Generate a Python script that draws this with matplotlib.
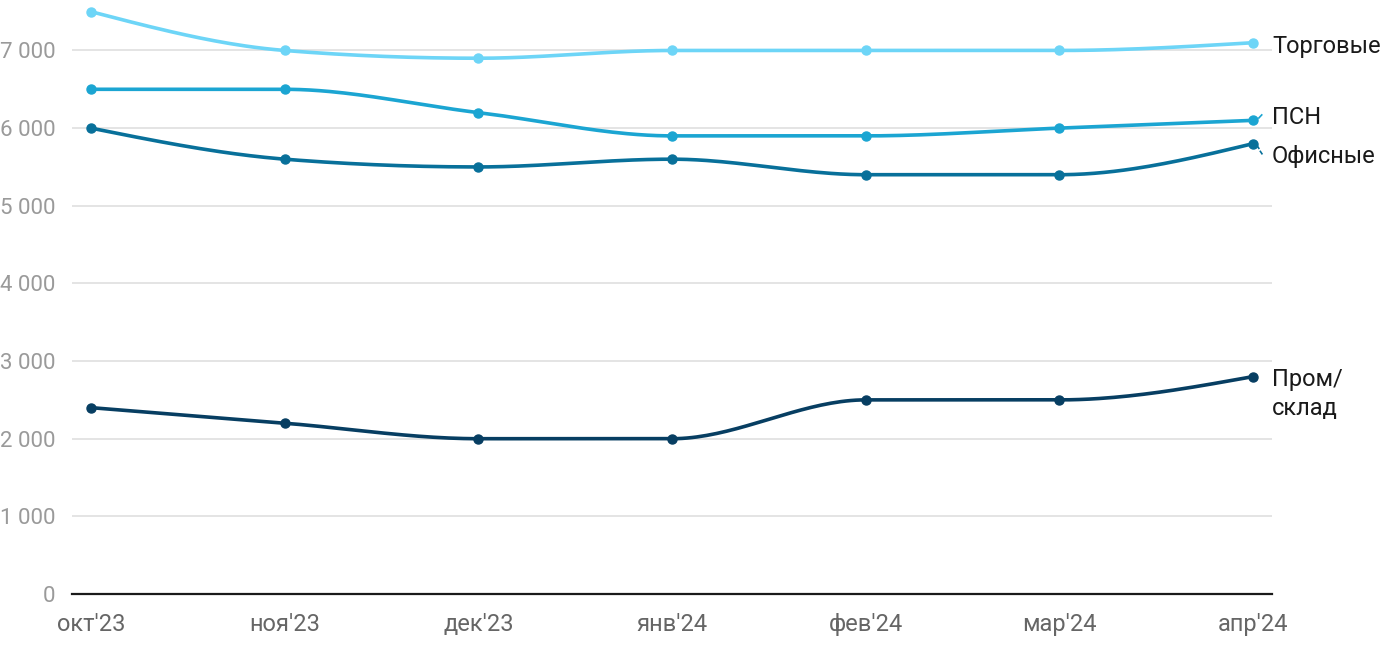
import numpy as np
import matplotlib
matplotlib.use("Agg")
import matplotlib.pyplot as plt

plt.rcParams['font.family'] = ['Roboto', 'DejaVu Sans']

months = ["окт'23", "ноя'23", "дек'23", "янв'24", "фев'24", "мар'24", "апр'24"]
torg = [7500, 7000, 6900, 7000, 7000, 7000, 7100]
psn = [6500, 6500, 6200, 5900, 5900, 6000, 6100]
ofis = [6000, 5600, 5500, 5600, 5400, 5400, 5800]
prom = [2400, 2200, 2000, 2000, 2500, 2500, 2800]

series = [
    ("Торговые", torg, "#6dd5f7"),
    ("ПСН", psn, "#1ba5d2"),
    ("Офисные", ofis, "#08709a"),
    ("Пром/\nсклад", prom, "#073e62"),
]
label_y = [7050, 6140, 5630, 2580]


def monotone(xs, ys, n=40):
    xs = np.asarray(xs, float)
    ys = np.asarray(ys, float)
    h = np.diff(xs)
    s = np.diff(ys) / h
    m = len(xs)
    t = np.zeros(m)
    for i in range(1, m - 1):
        s0, s1 = s[i - 1], s[i]
        p = (s0 * h[i] + s1 * h[i - 1]) / (h[i - 1] + h[i])
        t[i] = (np.sign(s0) + np.sign(s1)) * min(abs(s0), abs(s1), 0.5 * abs(p))
    t[0] = (3 * s[0] - t[1]) / 2
    t[-1] = (3 * s[-1] - t[-2]) / 2
    px, py = [], []
    for i in range(m - 1):
        x0, x1 = xs[i], xs[i + 1]
        y0, y1 = ys[i], ys[i + 1]
        dx = (x1 - x0) / 3
        c = [(x0, y0), (x0 + dx, y0 + dx * t[i]), (x1 - dx, y1 - dx * t[i + 1]), (x1, y1)]
        u = np.linspace(0, 1, n)
        b = [(1 - u) ** 3, 3 * (1 - u) ** 2 * u, 3 * (1 - u) * u ** 2, u ** 3]
        px.extend(sum(b[k] * c[k][0] for k in range(4)))
        py.extend(sum(b[k] * c[k][1] for k in range(4)))
    return np.array(px), np.array(py)


fig = plt.figure(figsize=(14, 6.5), dpi=100)
ax = fig.add_axes([72 / 1400, 56 / 650, 1200 / 1400, 594 / 650])
x = np.arange(len(months))

for name, vals, col in series:
    cx, cy = monotone(x, vals)
    ax.plot(cx, cy, color=col, lw=2.6, solid_capstyle='round', zorder=3, clip_on=False)
    ax.plot(x, vals, 'o', color=col, ms=6.5, zorder=4, clip_on=False)

for (name, vals, col), ly in zip(series, label_y):
    ax.annotate(name, xy=(x[-1], vals[-1]), xytext=(1272 / 1400, ly), textcoords=('figure fraction', 'data'),
                ha='left', va='center', fontsize=17, color='#1a1a1a', annotation_clip=False,
                linespacing=1.35)

# short leader lines for shifted labels
ax.plot([x[-1] + 0.03, x[-1] + 0.045], [6130, 6170], color="#1ba5d2", lw=1.2, zorder=3, clip_on=False)
ax.plot([x[-1] + 0.022, x[-1] + 0.03], [5770, 5740], color="#08709a", lw=1.2, zorder=3, clip_on=False)
ax.plot([x[-1] + 0.038, x[-1] + 0.046], [5700, 5670], color="#08709a", lw=1.2, zorder=3, clip_on=False)

ax.set_xlim(-0.098, 6.098)
ax.set_ylim(0, 7650)
ax.set_yticks(range(0, 8000, 1000))
ax.set_yticklabels(["0"] + [f"{v // 1000} 000" for v in range(1000, 8000, 1000)])
ax.set_xticks(x)
ax.set_xticklabels(months)
ax.grid(axis='y', color='#e2e2e2', lw=1.3, zorder=0)
ax.set_axisbelow(True)
for sp in ['top', 'right', 'left']:
    ax.spines[sp].set_visible(False)
ax.spines['bottom'].set_color('#1a1a1a')
ax.spines['bottom'].set_linewidth(1.6)
ax.spines['bottom'].set_zorder(2)
ax.tick_params(axis='y', length=0, labelsize=16, labelcolor='#9a9a9a', pad=12)
ax.tick_params(axis='x', length=0, labelsize=17, labelcolor='#666666', pad=14)

fig.savefig("out.png", dpi=100)
